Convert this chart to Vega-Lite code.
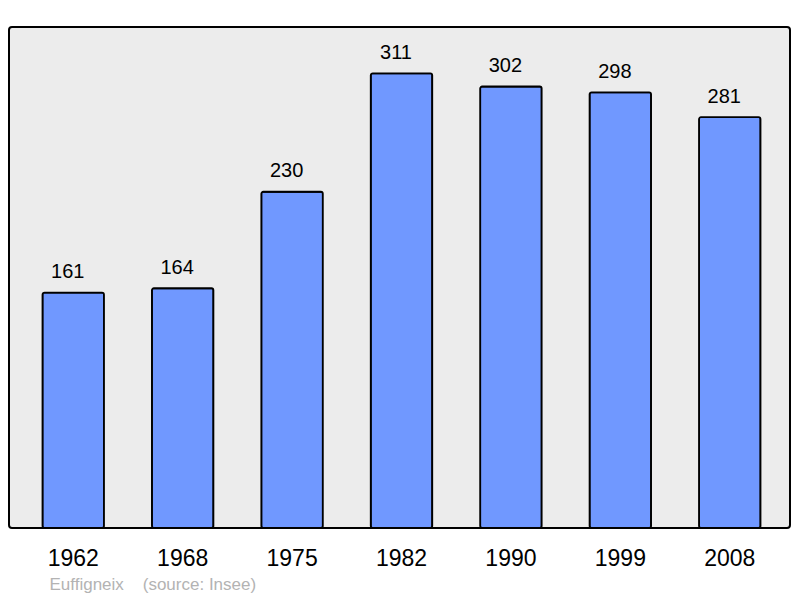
{
  "$schema": "https://vega.github.io/schema/vega-lite/v6.json",
  "description": "Population of Euffigneix by census year.",
  "width": 781,
  "height": 501,
  "autosize": {"type": "none"},
  "padding": {"left": 9, "top": 27, "right": 10, "bottom": 70},
  "background": "white",
  "config": {
    "font": "Liberation Sans",
    "view": {"fill": "#ececec", "stroke": "black", "strokeWidth": 2, "cornerRadius": 3}
  },
  "data": {
    "values": [
      {"year": "1962", "population": 161},
      {"year": "1968", "population": 164},
      {"year": "1975", "population": 230},
      {"year": "1982", "population": 311},
      {"year": "1990", "population": 302},
      {"year": "1999", "population": 298},
      {"year": "2008", "population": 281}
    ]
  },
  "encoding": {
    "x": {
      "field": "year",
      "type": "ordinal",
      "scale": {"range": [33.5, 751.5], "paddingInner": 0.438, "paddingOuter": 0},
      "axis": {
        "domain": false,
        "ticks": false,
        "labelPadding": 37,
        "labelBaseline": "alphabetic",
        "labelFontSize": 23,
        "labelColor": "black",
        "labelAngle": 0,
        "title": "Euffigneix\u00a0\u00a0\u00a0\u00a0(source: Insee)",
        "titleX": 40,
        "titleY": 61.5,
        "titleAlign": "left",
        "titleBaseline": "alphabetic",
        "titleFontSize": 17,
        "titleFontWeight": "normal",
        "titleColor": "#b3b3b3"
      }
    },
    "y": {
      "field": "population",
      "type": "quantitative",
      "scale": {"domain": [0, 342.7], "nice": false},
      "axis": null
    }
  },
  "layer": [
    {
      "mark": {"type": "bar", "fill": "#7098ff", "stroke": "black", "strokeWidth": 1.8, "cornerRadius": 2}
    },
    {
      "mark": {"type": "text", "fontSize": 20, "baseline": "alphabetic", "dx": -5.5, "dy": -14.5, "color": "black"},
      "encoding": {"text": {"field": "population", "type": "quantitative"}}
    }
  ]
}
